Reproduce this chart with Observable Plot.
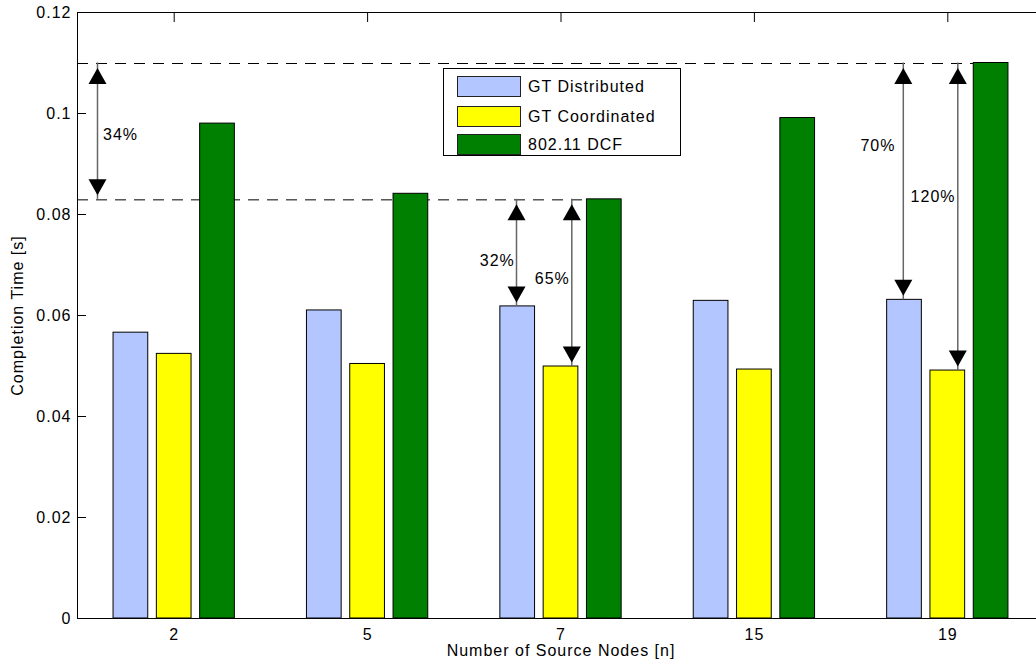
<!DOCTYPE html>
<html>
<head>
<meta charset="utf-8">
<script src="https://cdn.jsdelivr.net/npm/d3@7"></script>
<script src="https://cdn.jsdelivr.net/npm/@observablehq/plot@0.6"></script>
<style>
  body { margin: 0; background: #fff; }
  #wrap { position: relative; width: 1036px; height: 666px; overflow: hidden;
          font-family: "Liberation Sans", Arial, Helvetica, sans-serif; }
  #legend { position: absolute; left: 443px; top: 68px; width: 238px; height: 88px;
            border: 1px solid #000; background: #fff; box-sizing: border-box; }
  .row { position: absolute; left: 13px; height: 21px; display: flex; align-items: center; }
  .sw { width: 64px; height: 21px; border: 1px solid #222; box-sizing: border-box; margin-right: 7px; }
  .lab { font-size: 16px; letter-spacing: 1px; color: #000; white-space: nowrap; }
</style>
</head>
<body>
<div id="wrap"></div>
<script>
// ---- data ----
const categories = ["2", "5", "7", "15", "19"];
const seriesNames = ["GT Distributed", "GT Coordinated", "802.11 DCF"];
const distributed = [0.0566, 0.0610, 0.0618, 0.0629, 0.0631];
const coordinated = [0.0524, 0.0504, 0.0499, 0.0493, 0.0491];
const dcf = [0.0980, 0.0841, 0.0830, 0.0991, 0.1100];
const seriesColors = ["#b3c6ff", "#ffff00", "#008000"];
const yTicks = [0, 0.02, 0.04, 0.06, 0.08, 0.1, 0.12];
const yTickLabels = ["0", "0.02", "0.04", "0.06", "0.08", "0.1", "0.12"];

// reference dashed lines: level and the group whose DCF bar ends them
const refLevels = [0.110, 0.083];
const refEndCats = ["19", "7"];

// annotation arrows
const arrowCats = ["2", "7", "7", "19", "19"];
const arrowTop = [0.110, 0.083, 0.083, 0.110, 0.110];
const arrowBottom = [0.083, distributed[2], coordinated[2], distributed[4], coordinated[4]];
const arrowLabels = ["34%", "32%", "65%", "70%", "120%"];
const arrowLabelY = [0.0958, 0.0709, 0.0673, 0.0936, 0.0835];

// ---- layout / style constants ----
const W = 1036, H = 666;
const mLeft = 77, mRight = -8, mTop = 12, mBottom = 48;
const band = (W - mLeft - mRight) / categories.length;
const barW = 34.7, pitch = 43.3;
const arrowDx = [-76.7, -44.5, 10.8, -44.5, 10];
const labelDx = [-36.1, -46.2, 8.8, -52.3, 7.7];
const font = "\"Liberation Sans\", Arial, Helvetica, sans-serif";

const series = [distributed, coordinated, dcf];
const barMarks = series.map((vals, s) => {
  const off = (s - 1) * pitch;
  const insetLeft = band / 2 + off - barW / 2;
  const insetRight = band - insetLeft - barW;
  return Plot.barY(categories.map((c, i) => ({cat: c, v: vals[i]})), {
    x: "cat", y: "v", fill: seriesColors[s], stroke: "#000", strokeWidth: 1,
    insetLeft, insetRight
  });
});

const refMarks = refLevels.map((lv, k) => Plot.ruleY([lv], {
  x1: () => categories[0], x2: () => refEndCats[k],
  insetRight: band / 2 - pitch + barW / 2,
  dy: 0.5,
  stroke: "#000", strokeWidth: 1, strokeDasharray: "11,8"
}));

const upHead = {draw(ctx) { ctx.moveTo(0, 0); ctx.lineTo(9, 16); ctx.lineTo(-9, 16); ctx.closePath(); }};
const downHead = {draw(ctx) { ctx.moveTo(0, 0); ctx.lineTo(9, -16); ctx.lineTo(-9, -16); ctx.closePath(); }};

const arrowMarks = [];
arrowCats.forEach((c, k) => {
  const d = [{cat: c, top: arrowTop[k], bottom: arrowBottom[k], label: arrowLabels[k], ly: arrowLabelY[k]}];
  arrowMarks.push(Plot.ruleX(d, {x: "cat", y1: "top", y2: "bottom", dx: arrowDx[k], stroke: "#666", strokeWidth: 1.5}));
  arrowMarks.push(Plot.dot(d, {x: "cat", y: "top", dx: arrowDx[k], dy: 5, symbol: upHead, fill: "#000", stroke: "none", r: 5}));
  arrowMarks.push(Plot.dot(d, {x: "cat", y: "bottom", dx: arrowDx[k], dy: -4, symbol: downHead, fill: "#000", stroke: "none", r: 5}));
  arrowMarks.push(Plot.text(d, {x: "cat", y: "ly", text: "label", dx: labelDx[k], textAnchor: "end", fill: "#000", fontSize: 16}));
});

const chart = Plot.plot({
  width: W, height: H,
  marginLeft: mLeft, marginRight: mRight, marginTop: mTop, marginBottom: mBottom,
  style: {fontFamily: font, fontSize: "16px", letterSpacing: "1px", color: "#000", background: "#fff", overflow: "hidden"},
  x: {type: "band", domain: categories, padding: 0, round: false},
  y: {domain: [0, 0.12]},
  marks: [
    ...refMarks,
    ...barMarks,
    Plot.frame({stroke: "#000", strokeWidth: 1}),
    Plot.axisY({ticks: yTicks, tickFormat: (d, i) => yTickLabels[i], tickSize: -9, tickPadding: 15, label: null, fill: "#000"}),
    Plot.axisY({anchor: "right", ticks: yTicks, tickFormat: () => "", tickSize: -9, label: null}),
    Plot.axisX({anchor: "top", tickFormat: () => "", tickSize: -9, label: null}),
    Plot.axisX({anchor: "bottom", tickSize: 0, tickPadding: 10, label: null, fill: "#000"}),
    Plot.text(["Completion Time [s]"], {frameAnchor: "left", rotate: -90, dx: -60, text: (d) => d, fontSize: 16, fill: "#000", textAnchor: "middle"}),
    Plot.text(["Number of Source Nodes [n]"], {frameAnchor: "bottom", dy: 37, text: (d) => d, fontSize: 16, fill: "#000"}),
    ...arrowMarks
  ]
});

const wrap = document.getElementById("wrap");
wrap.appendChild(chart);

// legend
const legend = document.createElement("div");
legend.id = "legend";
const rowTops = [7, 37, 65];
seriesNames.forEach((name, i) => {
  const row = document.createElement("div");
  row.className = "row";
  row.style.top = rowTops[i] + "px";
  const sw = document.createElement("div");
  sw.className = "sw";
  sw.style.background = seriesColors[i];
  const lab = document.createElement("span");
  lab.className = "lab";
  lab.textContent = name;
  row.appendChild(sw);
  row.appendChild(lab);
  legend.appendChild(row);
});
wrap.appendChild(legend);
</script>
</body>
</html>
